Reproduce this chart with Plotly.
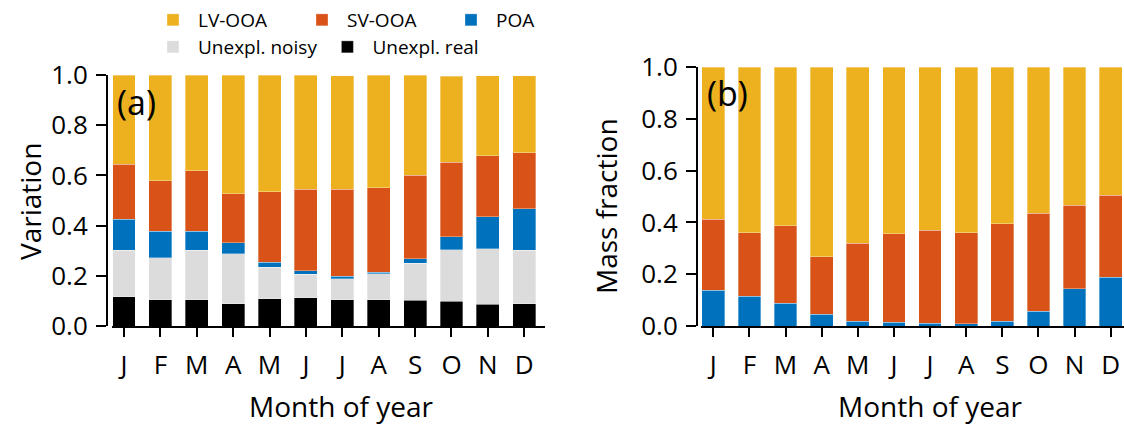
import plotly.graph_objects as go

months = ["J", "F", "M", "A", "M", "J", "J", "A", "S", "O", "N", "D"]
x_idx = list(range(len(months)))

# Panel (a): variation (stack bottom -> top)
a_unexpl_real = [0.116, 0.105, 0.105, 0.089, 0.108, 0.113, 0.105, 0.105, 0.102, 0.098, 0.086, 0.089]
a_unexpl_noisy = [0.185, 0.167, 0.196, 0.198, 0.126, 0.093, 0.084, 0.103, 0.149, 0.206, 0.221, 0.212]
a_poa = [0.125, 0.105, 0.077, 0.045, 0.020, 0.014, 0.010, 0.007, 0.017, 0.051, 0.129, 0.166]
a_svooa = [0.218, 0.201, 0.241, 0.194, 0.280, 0.324, 0.345, 0.336, 0.332, 0.298, 0.243, 0.224]
a_lvooa = [0.356, 0.422, 0.381, 0.474, 0.466, 0.456, 0.453, 0.449, 0.400, 0.342, 0.318, 0.306]

# Panel (b): mass fraction
b_poa = [0.138, 0.115, 0.088, 0.046, 0.019, 0.014, 0.010, 0.008, 0.018, 0.057, 0.143, 0.188]
b_svooa = [0.274, 0.245, 0.299, 0.222, 0.301, 0.342, 0.359, 0.353, 0.376, 0.379, 0.323, 0.316]
b_lvooa = [0.588, 0.640, 0.613, 0.732, 0.680, 0.644, 0.631, 0.639, 0.606, 0.564, 0.534, 0.496]

y_ticks = [0.0, 0.2, 0.4, 0.6, 0.8, 1.0]
y_ticktext = ["0.0", "0.2", "0.4", "0.6", "0.8", "1.0"]

C_LV = "#EDB120"
C_SV = "#D95319"
C_POA = "#0072BD"
C_NOISY = "#DCDCDC"
C_REAL = "#000000"

FONT = "Open Sans"
W, H = 1124, 430
BW = 0.63
edge = dict(color="rgba(255,255,255,0.55)", width=0.6)

fig = go.Figure()

def bar(x, y, name, color, xa, ya, legend=None, show=False):
    return go.Bar(x=x, y=y, name=name, marker=dict(color=color, line=edge),
                  width=BW, xaxis=xa, yaxis=ya, showlegend=show,
                  legend=legend)

# panel a
fig.add_trace(bar(x_idx, a_unexpl_real, "Unexpl. real", C_REAL, "x", "y", "legend2", True))
fig.add_trace(bar(x_idx, a_unexpl_noisy, "Unexpl. noisy", C_NOISY, "x", "y", "legend2", True))
fig.add_trace(bar(x_idx, a_poa, "POA", C_POA, "x", "y", "legend", True))
fig.add_trace(bar(x_idx, a_svooa, "SV-OOA", C_SV, "x", "y", "legend", True))
fig.add_trace(bar(x_idx, a_lvooa, "LV-OOA", C_LV, "x", "y", "legend", True))
# panel b
fig.add_trace(bar(x_idx, b_poa, "POA", C_POA, "x2", "y2"))
fig.add_trace(bar(x_idx, b_svooa, "SV-OOA", C_SV, "x2", "y2"))
fig.add_trace(bar(x_idx, b_lvooa, "LV-OOA", C_LV, "x2", "y2"))

def px_x(p):
    return p / W

def px_y(p):
    return 1 - p / H

axis_common = dict(showline=True, linecolor="black", linewidth=2, ticks="outside",
                   tickcolor="black", tickwidth=2, showgrid=False, zeroline=False,
                   automargin=False,
                   tickfont=dict(family=FONT, size=26, color="black"))

xa = dict(axis_common, tickvals=x_idx, ticktext=months, ticklen=9, ticklabelstandoff=6)
ya = dict(axis_common, tickvals=y_ticks, ticktext=y_ticktext, range=[0, 1], ticklen=10,
          ticklabelstandoff=3)

leg_common = dict(orientation="h", xref="container", yref="container",
                  xanchor="left", yanchor="top", traceorder="reversed",
                  itemwidth=40,
                  font=dict(family=FONT, size=19, color="black"),
                  bgcolor="rgba(0,0,0,0)", borderwidth=0)

TF = dict(family=FONT, size=28, color="black")

def title_ann(text, x, y, angle=0):
    return dict(text=text, x=px_x(x), y=px_y(y), xref="paper", yref="paper",
                xanchor="center", yanchor="middle", showarrow=False,
                textangle=angle, font=TF)

fig.update_layout(
    width=W, height=H, margin=dict(l=0, r=0, t=0, b=0, autoexpand=False),
    paper_bgcolor="white", plot_bgcolor="white", barmode="stack",
    font=dict(family=FONT, color="black"),
    xaxis=dict(xa, domain=[px_x(112), px_x(545)], range=[-0.33, 11.57], anchor="y"),
    yaxis=dict(ya, domain=[px_y(326), px_y(75)], anchor="free", position=px_x(107)),
    xaxis2=dict(xa, domain=[px_x(701), 1.0], range=[-0.34, 11.37], anchor="y2"),
    yaxis2=dict(ya, domain=[px_y(326), px_y(67)], anchor="free", position=px_x(697)),
    legend=dict(leg_common, x=px_x(148), y=px_y(1), entrywidth=94),
    legend2=dict(leg_common, x=px_x(148), y=px_y(28)),
    annotations=[
        title_ann("Variation", 30, 202, -90),
        title_ann("Mass fraction", 606, 206, -90),
        title_ann("Month of year", 341, 406),
        title_ann("Month of year", 930, 406),
        dict(text="(a)", x=px_x(115), y=px_y(102), xref="paper", yref="paper",
             xanchor="left", yanchor="middle", showarrow=False,
             font=dict(family=FONT, size=34, color="black")),
        dict(text="(b)", x=px_x(705), y=px_y(93), xref="paper", yref="paper",
             xanchor="left", yanchor="middle", showarrow=False,
             font=dict(family=FONT, size=34, color="black")),
    ],
)

fig.write_html("out.html",
               config={"displayModeBar": False},
               post_script="document.body.style.margin='0';document.body.style.overflow='hidden';")
